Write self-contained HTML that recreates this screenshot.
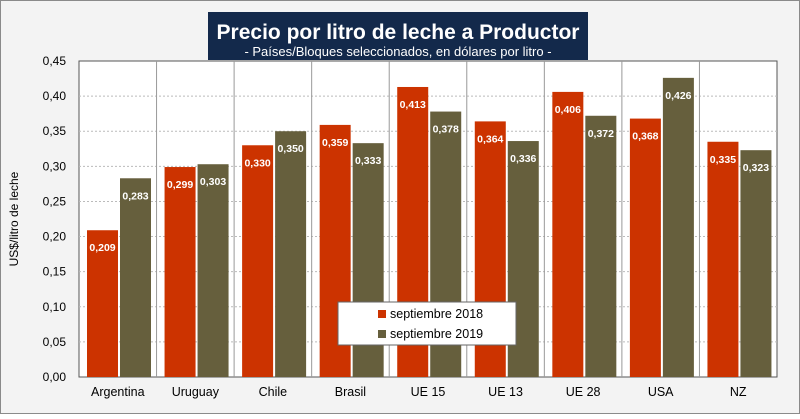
<!DOCTYPE html>
<html><head><meta charset="utf-8"><style>
body{margin:0;background:#fff;}
svg text{font-family:"Liberation Sans",sans-serif;}
</style></head><body>
<svg id="c" width="800" height="414" xmlns="http://www.w3.org/2000/svg">
<rect x="0.5" y="0.5" width="799" height="413" fill="#f3f3f3" stroke="#8a8a8a"/>
<rect x="79" y="61" width="698" height="316" fill="#fff" stroke="#555" stroke-width="1"/>
<g id="grid"></g><g id="bars"></g><g id="axes"></g>
<rect x="208" y="12" width="380" height="48" fill="#13294b"/>
<text x="398" y="39" text-anchor="middle" fill="#fff" font-size="21" font-weight="bold">Precio por litro de leche a Productor</text>
<text x="398" y="56" text-anchor="middle" fill="#fff" font-size="13">- Países/Bloques seleccionados, en dólares por litro -</text>
<text transform="translate(18,219) rotate(-90)" text-anchor="middle" font-size="12" fill="#000">US$/litro de leche</text>
<g>
<rect x="338" y="302" width="178" height="43" fill="#fff" stroke="#666"/>
<rect x="378" y="310" width="8" height="8" fill="#cc3300"/>
<text x="390" y="318" font-size="12.5">septiembre 2018</text>
<rect x="378" y="330" width="8" height="8" fill="#665f3d"/>
<text x="390" y="338" font-size="12.5">septiembre 2019</text>
</g>
</svg>
<script>
const categories=["Argentina","Uruguay","Chile","Brasil","UE 15","UE 13","UE 28","USA","NZ"];
const s2018=[0.209,0.299,0.330,0.359,0.413,0.364,0.406,0.368,0.335];
const s2019=[0.283,0.303,0.350,0.333,0.378,0.336,0.372,0.426,0.323];
const yTicks=[0,0.05,0.10,0.15,0.20,0.25,0.30,0.35,0.40,0.45];
const NS="http://www.w3.org/2000/svg";
const L=79,R=777,T=61,B=377,MAX=0.45;
const y=v=>B-(v/MAX)*(B-T);
const cw=(R-L)/categories.length;
const x=i=>L+i*cw;
function mk(tag,attrs,parent,txt){const e=document.createElementNS(NS,tag);for(const k in attrs)e.setAttribute(k,attrs[k]);if(txt!==undefined)e.textContent=txt;document.getElementById(parent).appendChild(e);return e;}
const fmt=v=>v.toFixed(3).replace('.',',');
yTicks.forEach(t=>{
  if(t>0&&t<MAX){const g=mk('line',{x1:L,x2:R,y1:y(t),y2:y(t),stroke:'#bbb','stroke-dasharray':'2,2'},'grid');
  
  }
  const tl=mk('text',{x:L-13,y:y(t)+4,'text-anchor':'end','font-size':12},'axes',t.toFixed(2).replace('.',','));
  
  
});
categories.forEach((c,i)=>{
  if(i>0){const s=mk('line',{x1:x(i),x2:x(i),y1:T,y2:B,stroke:'#999'},'grid');
  
  }
  const lb=mk('text',{x:x(i)+cw/2,y:B+19,'text-anchor':'middle','font-size':12.5},'axes',c);
  
  
  [[s2018,'#cc3300',0],[s2019,'#665f3d',1]].forEach(([arr,col,k])=>{
    const bx=x(i)+8+k*33,bw=31,v=arr[i];
    const r=mk('rect',{x:bx,y:y(v),width:bw,height:B-y(v),fill:col},'bars');
    
    
    const t=mk('text',{x:bx+bw/2,y:y(v)+21,'text-anchor':'middle','font-size':10.5,'font-weight':'bold',fill:'#fff'},'bars',fmt(v));
    
    
  });
});
</script>
</body></html>
